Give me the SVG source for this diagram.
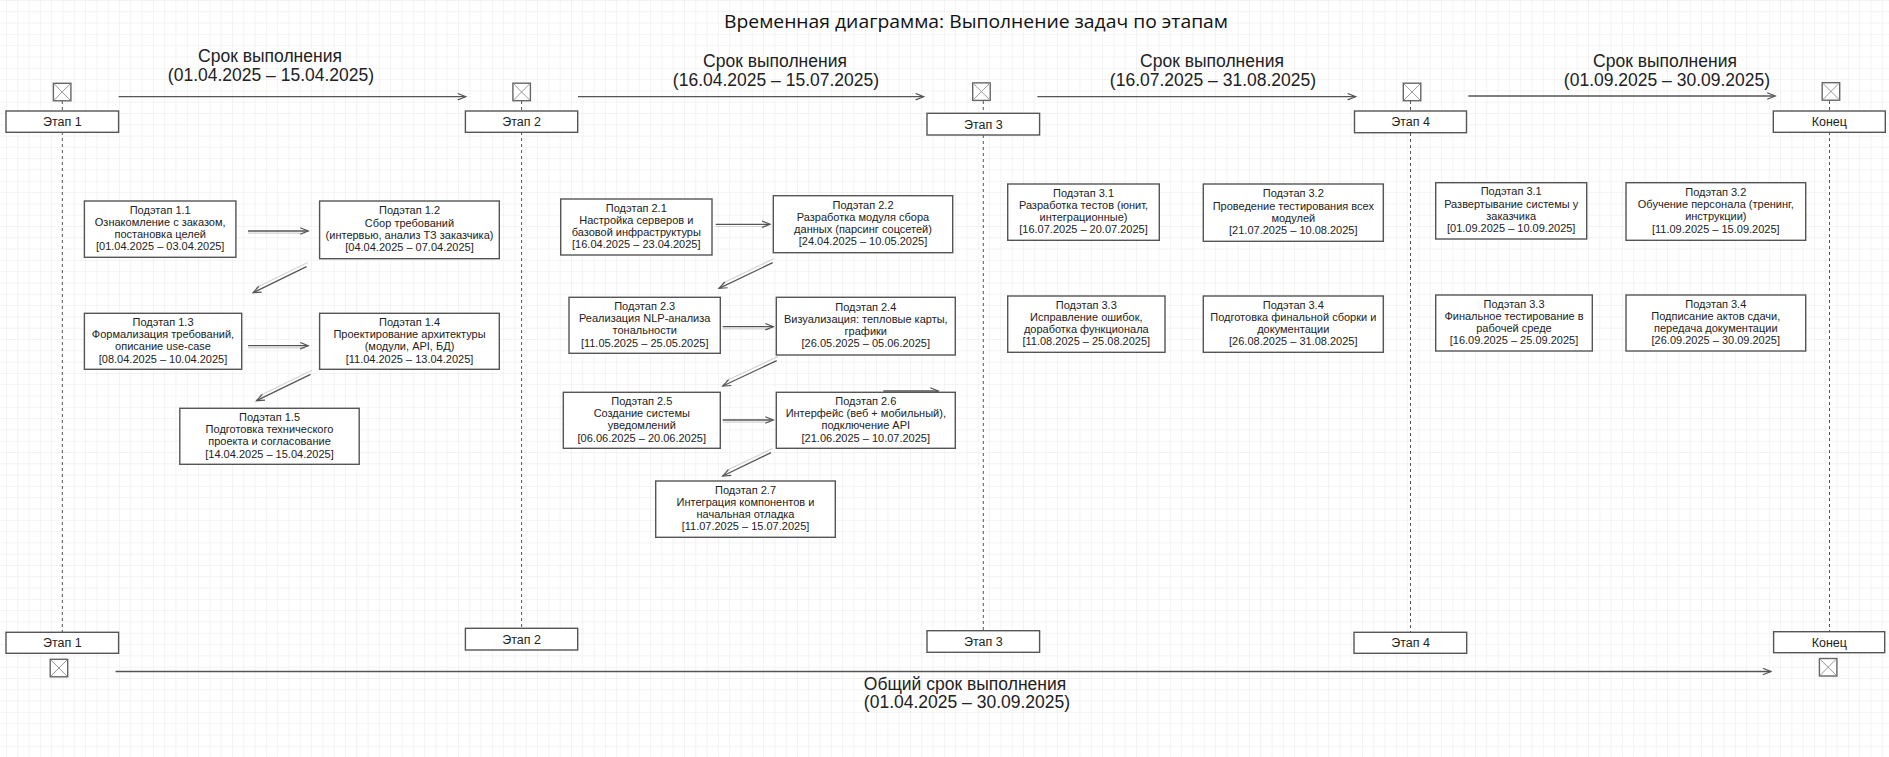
<svg xmlns="http://www.w3.org/2000/svg" width="1889" height="757" viewBox="0 0 1889 757">
<defs>
<pattern id="grid" x="6" y="0" width="11.3" height="11.3" patternUnits="userSpaceOnUse">
<path d="M0,0 V11.3 M0,0 H11.3" fill="none" stroke="#e8e8e8" stroke-width="1"/>
</pattern>
<marker id="ah" viewBox="0 0 10 8" refX="8.5" refY="4" markerWidth="10" markerHeight="8" markerUnits="userSpaceOnUse" orient="auto">
<path d="M0.5,0.8 L8.5,4 L0.5,7.2" fill="none" stroke="#555" stroke-width="1.2"/>
</marker>
<g id="icon">
<rect x="0" y="0" width="17.5" height="17.5" fill="#fff" stroke="#666" stroke-width="1.4"/>
<path d="M0.7,0.7 L16.8,16.8 M16.8,0.7 L0.7,16.8" stroke="#999" stroke-width="1"/>
</g>
</defs>
<style>
.box{fill:#fff;stroke:#555;stroke-width:1.4}
.stage{fill:#fff;stroke:#555;stroke-width:1.4}
.t{font-family:"Liberation Sans",Arial,sans-serif;font-size:11px;fill:#222;text-anchor:middle}
.st{font-family:"Liberation Sans",Arial,sans-serif;font-size:12.5px;fill:#222;text-anchor:middle}
.lbl{font-family:"Liberation Sans",Arial,sans-serif;font-size:17.5px;fill:#222;text-anchor:middle}
.title{font-family:"Open Sans","Liberation Sans",sans-serif;font-size:19px;fill:#111;text-anchor:middle}
.life{stroke:#555;stroke-width:1;stroke-dasharray:3,3;fill:none}
.arr{stroke:#555;stroke-width:1.3;fill:none;marker-end:url(#ah)}
.ghost{stroke:#d4d4d4;stroke-width:1.2;fill:none}
</style>
<rect width="1889" height="757" fill="#fff"/>
<rect width="1889" height="757" fill="url(#grid)"/>

<text class="title" x="976" y="28" textLength="504" lengthAdjust="spacingAndGlyphs">Временная диаграмма: Выполнение задач по этапам</text>

<g id="lifelines">
<path class="life" d="M62.3,101 V111 M62.3,132 V632"/>
<path class="life" d="M521.6,101 V111 M521.6,132 V628"/>
<path class="life" d="M983.3,101 V113 M983.3,135 V631"/>
<path class="life" d="M1410.5,101 V111 M1410.5,133 V632"/>
<path class="life" d="M1829.5,101 V111 M1829.5,132 V632"/>
</g>

<g id="labels">
<text class="lbl" x="270" y="61.5">Срок выполнения</text>
<text class="lbl" x="271" y="80.5">(01.04.2025 – 15.04.2025)</text>
<text class="lbl" x="775" y="67">Срок выполнения</text>
<text class="lbl" x="776" y="86">(16.04.2025 – 15.07.2025)</text>
<text class="lbl" x="1212" y="67">Срок выполнения</text>
<text class="lbl" x="1213" y="86">(16.07.2025 – 31.08.2025)</text>
<text class="lbl" x="1665" y="67">Срок выполнения</text>
<text class="lbl" x="1667" y="86">(01.09.2025 – 30.09.2025)</text>
<text class="lbl" x="965" y="689.5">Общий срок выполнения</text>
<text class="lbl" x="967" y="708">(01.04.2025 – 30.09.2025)</text>
</g>

<g id="stage1">
<use href="#icon" x="53.4" y="83.3"/>
<rect class="stage" x="6" y="111" width="112.6" height="21.3"/>
<text class="st" x="62.3" y="126">Этап 1</text>
</g>
<g id="stage2">
<use href="#icon" x="512.9" y="83.2"/>
<rect class="stage" x="465.4" y="111" width="112.3" height="21.3"/>
<text class="st" x="521.6" y="126">Этап 2</text>
</g>
<g id="stage3">
<use href="#icon" x="972.7" y="82.9"/>
<rect class="stage" x="927" y="113.3" width="112.6" height="21.7"/>
<text class="st" x="983.3" y="128.5">Этап 3</text>
</g>
<g id="stage4">
<use href="#icon" x="1403.3" y="83.2"/>
<rect class="stage" x="1354.5" y="111" width="112" height="21.7"/>
<text class="st" x="1410.5" y="126.3">Этап 4</text>
</g>
<g id="stageEnd">
<use href="#icon" x="1822.2" y="82.7"/>
<rect class="stage" x="1773.3" y="111" width="112" height="21.3"/>
<text class="st" x="1829.3" y="126">Конец</text>
</g>

<g id="stage1b">
<rect class="stage" x="6" y="632.3" width="112.6" height="21"/>
<text class="st" x="62.3" y="647.3">Этап 1</text>
<use href="#icon" x="50.2" y="659.3"/>
</g>
<g id="stage2b">
<rect class="stage" x="465.4" y="628.3" width="112.3" height="21.7"/>
<text class="st" x="521.6" y="643.5">Этап 2</text>
</g>
<g id="stage3b">
<rect class="stage" x="927" y="630.7" width="112.6" height="21.6"/>
<text class="st" x="983.3" y="645.8">Этап 3</text>
</g>
<g id="stage4b">
<rect class="stage" x="1354" y="632.3" width="112.7" height="21"/>
<text class="st" x="1410.5" y="647.3">Этап 4</text>
</g>
<g id="stageEndb">
<rect class="stage" x="1773.6" y="631.7" width="111.1" height="21"/>
<text class="st" x="1829.3" y="646.7">Конец</text>
<use href="#icon" x="1819.4" y="658.5"/>
</g>

<g id="connectors">
<path class="arr" d="M118.6,96.7 H465.8"/>
<path class="arr" d="M578,96.7 H923.6"/>
<path class="arr" d="M1037.4,96.7 H1355.6"/>
<path class="arr" d="M1468.3,96 H1775.2"/>
<path class="arr" d="M115.5,671.5 H1770.8"/>
<path class="ghost" d="M248,233.2 H305 M248,347.9 H305 M715.7,226.5 H767 M722.7,328.9 H770 M722.7,422.2 H770"/>
<path class="ghost" d="M307.8,262.5 L256,287.8 M312,370.2 L259.5,395.8 M774,258.5 L722,283.5 M778,356.5 L725.7,381 M772.5,448.5 L725.5,471"/>
<path class="arr" d="M248,231 H308.2"/>
<path class="arr" d="M306.5,266.7 L253.1,292.7"/>
<path class="arr" d="M248,345.7 H308.2"/>
<path class="arr" d="M310.6,374.3 L256.5,400.7"/>
<path class="arr" d="M715.7,224.3 H770"/>
<path class="arr" d="M772.7,262.7 L719,288.3"/>
<path class="arr" d="M722.7,326.7 H773.3"/>
<path class="arr" d="M776.7,360.7 L722.7,386"/>
<path class="arr" d="M722.7,420 H773.3"/>
<path class="arr" d="M883.3,391 H938.3"/>
<path class="arr" d="M771,452.7 L722.7,476"/>
</g>

<g id="n11"><rect class="box" x="84.4" y="201" width="151.5" height="56.3"/>
<text class="t"><tspan x="160.2" y="213.7">Подэтап 1.1</tspan><tspan x="160.2" y="226">Ознакомление с заказом,</tspan><tspan x="160.2" y="238">постановка целей</tspan><tspan x="160.2" y="250.4">[01.04.2025 – 03.04.2025]</tspan></text></g>
<g id="n12"><rect class="box" x="319.6" y="201" width="179.7" height="57.7"/>
<text class="t"><tspan x="409.5" y="214.3">Подэтап 1.2</tspan><tspan x="409.5" y="226.6">Сбор требований</tspan><tspan x="409.5" y="238.6">(интервью, анализ ТЗ заказчика)</tspan><tspan x="409.5" y="251">[04.04.2025 – 07.04.2025]</tspan></text></g>
<g id="n13"><rect class="box" x="84.4" y="313.3" width="157.3" height="56"/>
<text class="t"><tspan x="163" y="325.8">Подэтап 1.3</tspan><tspan x="163" y="338.1">Формализация требований,</tspan><tspan x="163" y="350.1">описание use-case</tspan><tspan x="163" y="362.5">[08.04.2025 – 10.04.2025]</tspan></text></g>
<g id="n14"><rect class="box" x="319.6" y="313.3" width="179.7" height="56"/>
<text class="t"><tspan x="409.5" y="325.8">Подэтап 1.4</tspan><tspan x="409.5" y="338.1">Проектирование архитектуры</tspan><tspan x="409.5" y="350.1">(модули, API, БД)</tspan><tspan x="409.5" y="362.5">[11.04.2025 – 13.04.2025]</tspan></text></g>
<g id="n15"><rect class="box" x="179.8" y="408.3" width="179.4" height="56"/>
<text class="t"><tspan x="269.5" y="420.8">Подэтап 1.5</tspan><tspan x="269.5" y="433.1">Подготовка технического</tspan><tspan x="269.5" y="445.1">проекта и согласование</tspan><tspan x="269.5" y="457.5">[14.04.2025 – 15.04.2025]</tspan></text></g>

<g id="n21"><rect class="box" x="560.7" y="199" width="151.3" height="56"/>
<text class="t"><tspan x="636.3" y="211.5">Подэтап 2.1</tspan><tspan x="636.3" y="223.8">Настройка серверов и</tspan><tspan x="636.3" y="235.8">базовой инфраструктуры</tspan><tspan x="636.3" y="248.2">[16.04.2025 – 23.04.2025]</tspan></text></g>
<g id="n22"><rect class="box" x="773.3" y="195.7" width="179.4" height="57"/>
<text class="t"><tspan x="863" y="208.7">Подэтап 2.2</tspan><tspan x="863" y="221">Разработка модуля сбора</tspan><tspan x="863" y="233">данных (парсинг соцсетей)</tspan><tspan x="863" y="245.4">[24.04.2025 – 10.05.2025]</tspan></text></g>
<g id="n23"><rect class="box" x="569" y="297.3" width="151.3" height="56"/>
<text class="t"><tspan x="644.7" y="309.8">Подэтап 2.3</tspan><tspan x="644.7" y="322.1">Реализация NLP-анализа</tspan><tspan x="644.7" y="334.1">тональности</tspan><tspan x="644.7" y="346.5">[11.05.2025 – 25.05.2025]</tspan></text></g>
<g id="n24"><rect class="box" x="776.3" y="297.3" width="179" height="57.7"/>
<text class="t"><tspan x="865.8" y="310.7">Подэтап 2.4</tspan><tspan x="865.8" y="323">Визуализация: тепловые карты,</tspan><tspan x="865.8" y="335">графики</tspan><tspan x="865.8" y="347.4">[26.05.2025 – 05.06.2025]</tspan></text></g>
<g id="n25"><rect class="box" x="563.3" y="392.3" width="157" height="56"/>
<text class="t"><tspan x="641.8" y="404.8">Подэтап 2.5</tspan><tspan x="641.8" y="417.1">Создание системы</tspan><tspan x="641.8" y="429.1">уведомлений</tspan><tspan x="641.8" y="441.5">[06.06.2025 – 20.06.2025]</tspan></text></g>
<g id="n26"><rect class="box" x="776.3" y="392.3" width="179" height="56"/>
<text class="t"><tspan x="865.8" y="404.8">Подэтап 2.6</tspan><tspan x="865.8" y="417.1">Интерфейс (веб + мобильный),</tspan><tspan x="865.8" y="429.1">подключение API</tspan><tspan x="865.8" y="441.5">[21.06.2025 – 10.07.2025]</tspan></text></g>
<g id="n27"><rect class="box" x="655.7" y="481" width="179.6" height="56.3"/>
<text class="t"><tspan x="745.5" y="493.7">Подэтап 2.7</tspan><tspan x="745.5" y="506">Интеграция компонентов и</tspan><tspan x="745.5" y="518">начальная отладка</tspan><tspan x="745.5" y="530.4">[11.07.2025 – 15.07.2025]</tspan></text></g>

<g id="n31"><rect class="box" x="1007.7" y="184" width="151.6" height="56.3"/>
<text class="t"><tspan x="1083.5" y="196.7">Подэтап 3.1</tspan><tspan x="1083.5" y="209">Разработка тестов (юнит,</tspan><tspan x="1083.5" y="221">интеграционные)</tspan><tspan x="1083.5" y="233.4">[16.07.2025 – 20.07.2025]</tspan></text></g>
<g id="n32"><rect class="box" x="1203.3" y="184" width="180" height="57.3"/>
<text class="t"><tspan x="1293.3" y="197.2">Подэтап 3.2</tspan><tspan x="1293.3" y="209.5">Проведение тестирования всех</tspan><tspan x="1293.3" y="221.5">модулей</tspan><tspan x="1293.3" y="233.9">[21.07.2025 – 10.08.2025]</tspan></text></g>
<g id="n33"><rect class="box" x="1007.7" y="296" width="157.3" height="56.3"/>
<text class="t"><tspan x="1086.3" y="308.7">Подэтап 3.3</tspan><tspan x="1086.3" y="321">Исправление ошибок,</tspan><tspan x="1086.3" y="333">доработка функционала</tspan><tspan x="1086.3" y="345.4">[11.08.2025 – 25.08.2025]</tspan></text></g>
<g id="n34"><rect class="box" x="1203.3" y="296" width="180" height="56.3"/>
<text class="t"><tspan x="1293.3" y="308.7">Подэтап 3.4</tspan><tspan x="1293.3" y="321">Подготовка финальной сборки и</tspan><tspan x="1293.3" y="333">документации</tspan><tspan x="1293.3" y="345.4">[26.08.2025 – 31.08.2025]</tspan></text></g>

<g id="n41"><rect class="box" x="1435.7" y="182.7" width="151" height="56.3"/>
<text class="t"><tspan x="1511.2" y="195.4">Подэтап 3.1</tspan><tspan x="1511.2" y="207.7">Развертывание системы у</tspan><tspan x="1511.2" y="219.7">заказчика</tspan><tspan x="1511.2" y="232.1">[01.09.2025 – 10.09.2025]</tspan></text></g>
<g id="n42"><rect class="box" x="1626" y="182.7" width="179.7" height="57.6"/>
<text class="t"><tspan x="1715.8" y="196">Подэтап 3.2</tspan><tspan x="1715.8" y="208.3">Обучение персонала (тренинг,</tspan><tspan x="1715.8" y="220.3">инструкции)</tspan><tspan x="1715.8" y="232.7">[11.09.2025 – 15.09.2025]</tspan></text></g>
<g id="n43"><rect class="box" x="1435.7" y="295" width="156.6" height="56"/>
<text class="t"><tspan x="1514" y="307.5">Подэтап 3.3</tspan><tspan x="1514" y="319.8">Финальное тестирование в</tspan><tspan x="1514" y="331.8">рабочей среде</tspan><tspan x="1514" y="344.2">[16.09.2025 – 25.09.2025]</tspan></text></g>
<g id="n44"><rect class="box" x="1626" y="295" width="179.7" height="56"/>
<text class="t"><tspan x="1715.8" y="307.5">Подэтап 3.4</tspan><tspan x="1715.8" y="319.8">Подписание актов сдачи,</tspan><tspan x="1715.8" y="331.8">передача документации</tspan><tspan x="1715.8" y="344.2">[26.09.2025 – 30.09.2025]</tspan></text></g>
</svg>
